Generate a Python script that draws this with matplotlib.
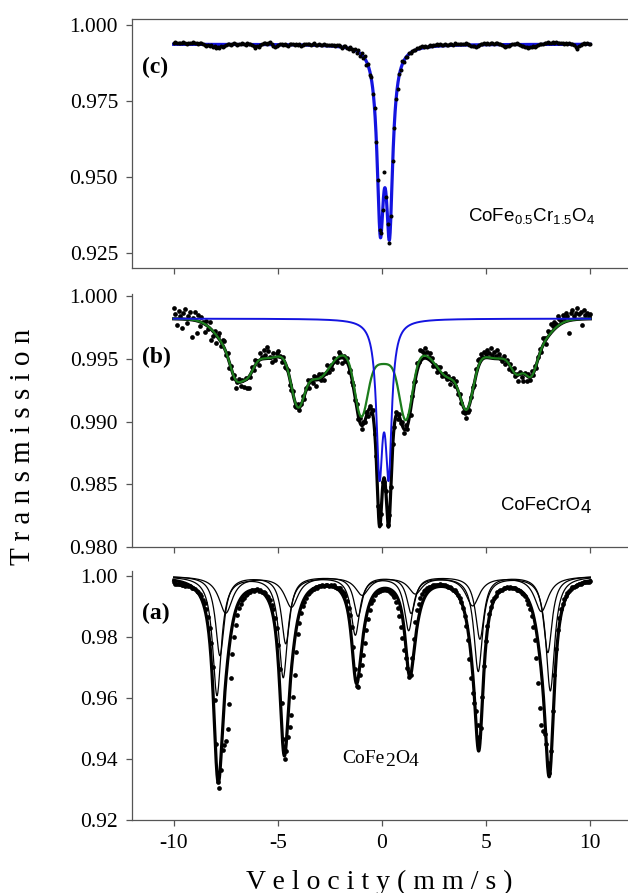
import numpy as np
import matplotlib.pyplot as plt
from matplotlib.ticker import FormatStrFormatter

plt.rcParams['font.family'] = ['Liberation Serif', 'DejaVu Serif']
plt.rcParams['mathtext.fontset'] = 'custom'
plt.rcParams['mathtext.rm'] = 'Liberation Serif'
plt.rcParams['mathtext.sf'] = 'Liberation Sans'
plt.rcParams['axes.unicode_minus'] = False

# velocity channels (mm/s)
vel = np.linspace(-10, 10, 256)
vfine = np.linspace(-10, 10, 2001)

# (c) CoFe0.5Cr1.5O4 : paramagnetic doublet
base_c = 0.9937
dbl_c_pos = [-0.08, 0.36]
dbl_c_depth = [0.0548, 0.0558]
dbl_c_fwhm = [0.38, 0.38]
res_c = [5, 8, 4, 6, 3, 5, 7, 4, 2, 6, 5, 3, 7, 4, 6, 2,
         5, 3, 1, -2, -4, -1, -6, -3, -8, -5, -11, -7, -12, -6, -9, -4,
         -2, 1, 3, -1, 2, 4, 0, -2, 3, 1, 5, 2, -1, 4, 2, 0,
         -3, -5, -13, -6, -9, -2, 1, 4, 6, 3, 5, 7, 2, -4, -9, -5,
         -2, 1, 3, -1, 2, 0, -3, 1, 4, 2, -1, 3, 0, 2, -2, 1,
         3, 5, 2, 4, 1, 3, 6, 2, 0, 4, 3, 1, 5, 2, 3, 4,
         2, 5, 3, 1, 4, 6, 2, -2, 3, 5, 1, -3, 4, 2, -4, 3,
         -5, 6, -8, 4, -6, 9, -10, 5, -12, 8, -9, 6, -7, 10, -8, 5,
         -8, 55, -6, -5, -10, -9, 11, -7, 8, -10, 6, -5, 9, -6, 4, -3,
         5, -2, 4, 3, -1, 5, 2, 4, 6, 3, 5, 2, 4, 7, 3, 5,
         4, 6, 3, 5, 2, 4, 7, 3, 1, 5, 4, 2, 6, 3, 5, 4,
         3, 5, 2, 6, 4, 1, -2, -5, -3, -6, -4, -2, 1, 3, 5, 4,
         6, 3, 5, 7, 2, 4, 6, 3, 1, -2, -5, -7, -4, -6, -2, 1,
         3, 2, 4, 1, -1, -4, -6, -9, -7, -12, -8, -10, -6, -9, -4, -2,
         1, 3, 2, 5, 4, 7, 3, 6, 8, 5, 7, 4, 6, 3, 5, 2,
         4, 1, 3, 0, 2, -3, -8, -15, -6, -2, 1, 3, 2, 4, 1, 2]

# (b) CoFeCrO4 : doublet (blue) + broad magnetic part (green)
base_b = 0.9982
dbl_b_pos = [-0.12, 0.32]
dbl_b_depth = [0.0113, 0.0113]
dbl_b_fwhm = [0.36, 0.36]
hf_b_pos = [-7.35, -7.0, -6.45, -5.6, -4.05, -3.1, -1.0, 0.05,
            1.15, 3.2, 4.08, 5.6, 6.47, 7.15, 7.45]
hf_b_depth = [0.0012, 0.0020, 0.0016, 0.0030, 0.0041, 0.0030, 0.0046, 0.0036,
              0.0049, 0.0028, 0.0041, 0.0030, 0.0016, 0.0020, 0.0012]
hf_b_sigma = [0.6, 0.28, 0.28, 1.3, 0.32, 0.6, 0.3, 2.2,
              0.3, 0.6, 0.32, 1.3, 0.28, 0.28, 0.6]
res_b = [9, 4, -5, 6, 2, -7, 5, 8, -3, 3, 6, -14, 2, 7, -10, 5,
         -3, 4, 1, -6, 3, -2, 5, -8, -4, 2, -6, 1, 5, -3, 4, 6,
         -2, 3, -5, 1, -4, 2, -6, 0, 3, -3, 1, -5, 2, -7, -9, -2,
         3, -2, 4, 1, -3, 5, 2, 7, 3, 9, 6, 1, -3, 4, -2, 3,
         5, 1, -3, 2, -4, -2, 1, -5, -3, 2, -4, -1, 3, -2, 1, 4,
         -3, 2, 5, -4, 1, -2, 3, -5, 2, 4, -1, 3, -3, 1, 5, -2,
         2, -3, 4, 1, -2, 5, 3, -4, 2, -1, 3, -5, 1, -3, 2, -2,
         3, -2, 4, -3, 2, -1, 3, -4, 2, -3, 4, -2, 3, -4, 2, -3,
         2, -3, 3, -2, 4, -3, 2, -1, 3, -4, 2, -2, 3, -3, 4, -2,
         3, -4, 2, 5, -2, 6, 3, 9, 7, 4, 8, 5, 2, 6, 3, -2,
         1, -3, 2, 4, -2, 1, 3, -1, 2, -4, 1, 3, -2, 4, -3, 1,
         -2, -5, -3, -6, -2, -4, 1, 3, -2, 5, 7, 4, 6, 2, 5, 3,
         6, 4, 8, 3, 5, 2, 7, 4, 1, -2, 3, -3, 1, -4, 2, -1,
         3, -2, 1, -5, 2, -3, -6, 1, -4, 2, -2, 4, -1, 3, -3, 2,
         4, -2, 6, 3, -4, 5, 2, 7, 4, 6, 3, 8, 5, 2, 6, 3,
         7, 4, -10, 6, 8, 3, 5, 9, 4, 6, -5, 7, 3, 5, 2, 4]

# (a) CoFe2O4 : three fitted sextets
base_a = 1.0
sx1_pos = [-7.92, -4.74, -1.28, 1.28, 4.62, 8.08]
sx1_depth = [0.039, 0.033, 0.019, 0.0175, 0.031, 0.0375]
sx2_pos = [-7.78, -4.62, -1.15, 1.40, 4.70, 7.96]
sx2_depth = [0.026, 0.022, 0.013, 0.012, 0.0205, 0.025]
sx3_pos = [-7.5, -4.35, -0.95, 1.6, 4.35, 7.65]
sx3_depth = [0.012, 0.010, 0.006, 0.0055, 0.0095, 0.0115]
sx_fwhm = [0.5, 0.5, 0.8]
# measured lines (core + low-field shoulder)
meas_core_pos = [-7.85, -4.68, -1.2, 1.35, 4.7, 8.05]
meas_core_depth = [0.057, 0.046, 0.029, 0.026, 0.042, 0.052]
meas_shld_pos = [-7.45, -4.35, -0.9, 1.05, 4.35, 7.65]
meas_shld_depth = [0.038, 0.030, 0.014, 0.013, 0.025, 0.036]
meas_base_a = 0.9998
res_a = [-4, -12, -10, -9, -8, -10, -7, -9, -6, -8, -5, -7, -6, -4, -5, -3,
         -4, -2, -3, -1, -2, 0, -1, 1, -2, 2, -1, 1, 3, -2, 2, -3,
         1, -2, 3, -1, 2, 0, -2, 1, 3, -1, 2, -2, 1, 0, 2, -1,
         2, -1, 0, 3, -2, 1, -1, 2, 0, -3, 1, 2, -1, 3, -2, 1,
         0, 2, -1, 1, -2, 3, 1, -1, 2, 0, -2, 1, 3, -1, 0, 2,
         -1, 1, 2, -2, 0, 3, -1, 1, -3, 2, 0, 1, -1, 2, 1, -2,
         1, -1, 2, 0, -2, 1, 3, -1, 0, 2, -1, -6, 1, 2, -1, 0,
         2, -1, 1, -2, 0, 1, 2, -1, 1, 0, -2, 1, 2, 0, -1, 1,
         0, 2, -1, 1, 0, -2, 1, 2, -1, 0, 1, -1, 2, -3, 1, 0,
         -1, 1, 2, -1, 0, 2, -2, 1, 0, 1, -1, 2, 0, -1, 1, 2,
         1, -1, 0, 2, -1, 1, 2, 0, -2, 1, 0, -1, 2, 1, -1, 0,
         2, 0, -1, 1, 2, -1, 0, 1, -2, 1, 2, 0, -1, 1, 0, 2,
         -1, 1, 0, 2, 1, -1, 2, 0, 1, -2, 1, 0, 2, -1, 1, 0,
         1, 2, -1, 0, 1, -1, 2, 1, 0, -2, 1, 2, -1, 0, 1, -1,
         0, 1, 2, -1, 1, 0, -2, 1, 2, 0, -1, 1, 0, 2, -1, 1,
         -2, 1, 0, -1, 2, -3, -1, -2, -1, -3, -2, -1, -2, -3, -2, -1]


def lor(x, pos, depth, fwhm):
    out = np.zeros_like(x)
    for p, d in zip(pos, depth):
        out += d / (1 + ((x - p) / (fwhm / 2)) ** 2)
    return out


def gau(x, pos, depth, sigma):
    out = np.zeros_like(x)
    for p, d, s in zip(pos, depth, sigma):
        out += d * np.exp(-0.5 * ((x - p) / s) ** 2)
    return out


def doublet(x, pos, depth, fwhm):
    return sum(lor(x, [p], [d], w) for p, d, w in zip(pos, depth, fwhm))


def chem(ax, x, y, parts, **kw):
    # formula written piece by piece, each piece shifted by dy points
    t = ax.text(x, y, parts[0][0], va='baseline', ha='left', **kw)
    prev = parts[0][1]
    for s, dy in parts[1:]:
        t = ax.annotate(s, xy=(1, 0), xycoords=t, xytext=(0, dy - prev),
                        textcoords='offset points', va='bottom', ha='left', **kw)
        prev = dy


ink = '#555555'
blue = '#1414e0'
green = '#1c7c1c'

fig = plt.figure(figsize=(6.28, 8.93), dpi=100)
W, H = 628.0, 893.0
axc = fig.add_axes([132 / W, 1 - 268 / H, 500 / W, 249 / H])
axb = fig.add_axes([132 / W, 1 - 547 / H, 500 / W, 253.5 / H])
axa = fig.add_axes([132 / W, 1 - 820 / H, 500 / W, 249 / H])

for ax in (axa, axb, axc):
    ax.set_xlim(-12, 12)
    ax.set_xticks([-10, -5, 0, 5, 10])
    ax.spines['right'].set_visible(False)
    for sp in ax.spines.values():
        sp.set_color(ink)
        sp.set_linewidth(0.9)
    ax.tick_params(direction='out', length=4, width=0.9, color=ink,
                   labelsize=15.5, pad=6)
axb.spines['top'].set_visible(False)
axa.spines['top'].set_visible(False)
axc.tick_params(labelbottom=False)
axb.tick_params(labelbottom=False)

# ---- (c)
fit_c = base_c - doublet(vfine, dbl_c_pos, dbl_c_depth, dbl_c_fwhm)
dat_c = base_c - doublet(vel, dbl_c_pos, dbl_c_depth, dbl_c_fwhm) + np.array(res_c) * 1e-4
axc.plot(vfine, fit_c, color=blue, lw=2.3, zorder=2)
axc.plot(vel, dat_c, 'o', ms=2.9, color='k', mec='none', zorder=3)
axc.set_ylim(0.920, 1.002)
axc.set_yticks([0.925, 0.950, 0.975, 1.000])
axc.yaxis.set_major_formatter(FormatStrFormatter('%.3f'))
axc.text(-11.5, 0.9859, '(c)', fontsize=17, fontweight='bold', va='center')
axc.text(4.15, 0.9356, r'$\mathsf{CoFe_{0.5}Cr_{1.5}O_4}$', fontsize=13.5,
         ha='left', va='baseline')

# ---- (b)
blue_b = doublet(vfine, dbl_b_pos, dbl_b_depth, dbl_b_fwhm)
green_b = gau(vfine, hf_b_pos, hf_b_depth, hf_b_sigma)
tot_b = base_b - blue_b - green_b
dat_b = (base_b - doublet(vel, dbl_b_pos, dbl_b_depth, dbl_b_fwhm)
         - gau(vel, hf_b_pos, hf_b_depth, hf_b_sigma) + np.array(res_b) * 1e-4)
axb.plot(vel, dat_b, 'o', ms=3.4, color='k', mec='none', zorder=2)
axb.plot(vfine, tot_b, color='k', lw=2.3, zorder=3)
axb.plot(vfine, base_b - green_b, color=green, lw=1.6, zorder=4)
axb.plot(vfine, base_b - blue_b, color=blue, lw=1.4, zorder=5)
axb.set_ylim(0.980, 1.0002)
axb.set_yticks([0.980, 0.985, 0.990, 0.995, 1.000])
axb.yaxis.set_major_formatter(FormatStrFormatter('%.3f'))
axb.text(-11.5, 0.99514, '(b)', fontsize=17, fontweight='bold', va='center')
chem(axb, 5.73, 0.98295, [('CoFeCrO', 0), ('4', -2)],
     fontsize=13.3, family='Liberation Sans')

# ---- (a)
comp = [(sx1_pos, sx1_depth, sx_fwhm[0]),
        (sx2_pos, sx2_depth, sx_fwhm[1]),
        (sx3_pos, sx3_depth, sx_fwhm[2])]
tot_a = np.full_like(vfine, base_a)
for pos, dep, w in comp:
    c = lor(vfine, pos, dep, w)
    tot_a -= c
    axa.plot(vfine, base_a - c, color='k', lw=0.9, zorder=2)
axa.plot(vfine, tot_a, color='k', lw=2.3, zorder=3)
dat_a = (meas_base_a - lor(vel, meas_core_pos, meas_core_depth, 0.45)
         - lor(vel, meas_shld_pos, meas_shld_depth, 0.55) + np.array(res_a) * 1e-4)
axa.plot(vel, dat_a, 'o', ms=3.4, color='k', mec='none', zorder=4)
axa.set_ylim(0.920, 1.0016)
axa.set_yticks([0.92, 0.94, 0.96, 0.98, 1.00])
axa.yaxis.set_major_formatter(FormatStrFormatter('%.2f'))
axa.text(-11.5, 0.98754, '(a)', fontsize=17, fontweight='bold', va='center')
chem(axa, -1.89, 0.9387, [('CoFe', 0), ('2', -2.5), ('O', 0), ('4', -2.5)],
     fontsize=14)

fig.text(379 / W, 1 - 882 / H, 'V e l o c i t y ( m m / s )', fontsize=20,
         ha='center', va='center')
fig.text(23 / W, 1 - 447 / H, 'T r a n s m i s s i o n', fontsize=21,
         rotation=90, ha='center', va='center')

fig.savefig('out.png', dpi=100)
